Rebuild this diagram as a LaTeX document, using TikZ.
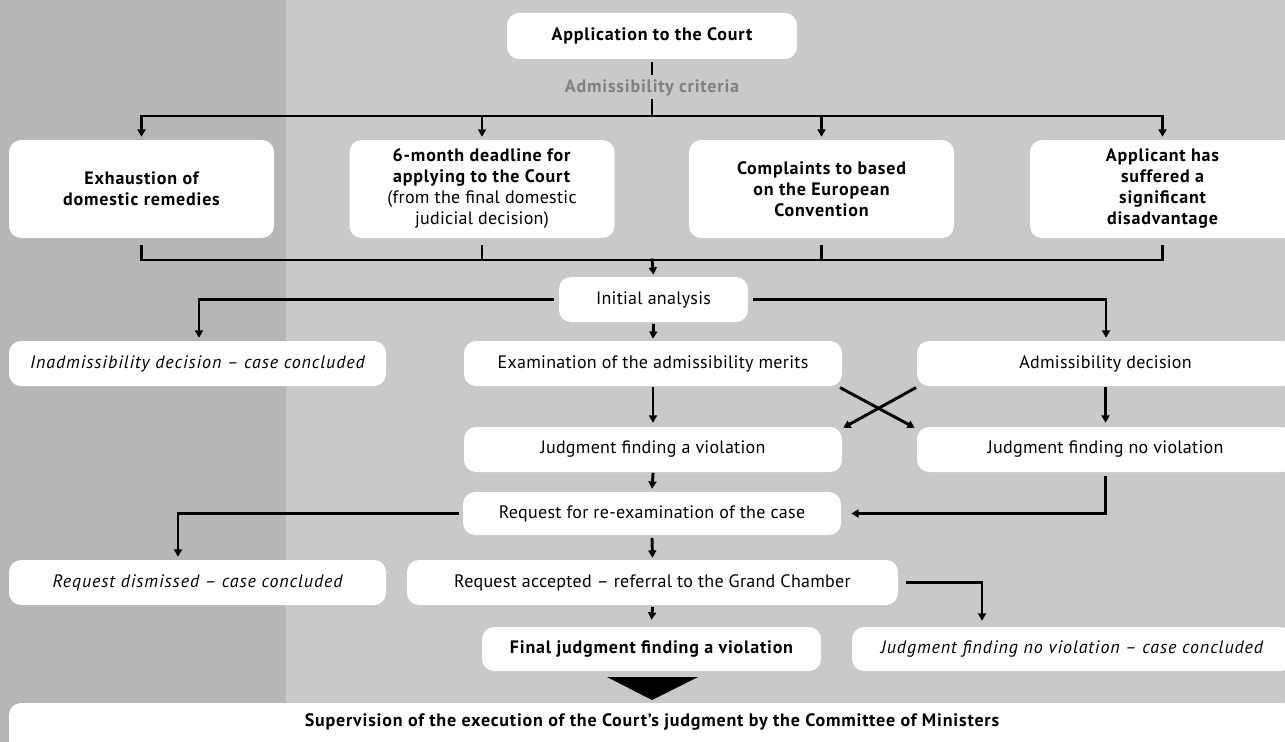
\documentclass[tikz,border=0pt]{standalone}
\usepackage{fontspec}
\setmainfont{PT Sans}[UprightFeatures={LetterSpace=1.5}, BoldFeatures={LetterSpace=4.5}, ItalicFeatures={LetterSpace=5}]
\usetikzlibrary{arrows.meta,calc}
\definecolor{darkbg}{HTML}{B5B6B8}
\definecolor{lightbg}{HTML}{C8C9CB}
\definecolor{crittext}{HTML}{808183}
\newcommand\fsz{\fontsize{13.5}{15.75}\selectfont}
\begin{document}
\begin{tikzpicture}[x=0.75pt,y=-0.75pt,
  box/.style={fill=white, rounded corners=9pt, inner sep=0pt, align=center, font=\fsz},
  bbox/.style={box, font=\fsz\bfseries},
  ibox/.style={box, font=\fsz\itshape},
  wh/.style 2 args={minimum width=#1*0.75pt, minimum height=#2*0.75pt},
  ln/.style={line width=2.2pt, line cap=rect},
  arr/.style={ln, -{Triangle[width=6pt,length=5.5pt]}}]
\useasboundingbox (0,0) rectangle (1285,742);
\clip (0,0) rectangle (1285,742);
\fill[darkbg] (0,0) rectangle (286,742);
\fill[lightbg] (286,0) rectangle (1285,742);

% nodes
\node[bbox, wh={290}{46}] (app) at (652,36) {Application to the Court};
\node[font=\fsz\bfseries, text=crittext, inner sep=1pt] (crit) at (652,88) {Admissibility criteria};

\node[bbox, wh={265}{98}] (b1) at (141.5,189) {Exhaustion of\\domestic remedies};
\node[box, wh={265}{98}] (b2) at (482,189) {\textbf{6-month deadline for}\\\textbf{applying to the Court}\\(from the final domestic\\judicial decision)};
\node[bbox, wh={265}{98}] (b3) at (821.5,189) {Complaints to based\\on the European\\Convention};
\node[bbox, wh={265}{98}] (b4) at (1162.5,189) {Applicant has\\suffered a\\significant\\disadvantage};

\node[box, wh={189}{45}] (init) at (653.5,299.5) {Initial analysis};
\node[ibox, wh={377}{45}] (inadm) at (197.5,363.5) {Inadmissibility decision -- case concluded};
\node[box, wh={378}{45}] (exam) at (653,363.5) {Examination of the admissibility merits};
\node[box, wh={377}{45}] (admdec) at (1105.5,363.5) {Admissibility decision};
\node[box, wh={378}{45}] (jviol) at (653,449.5) {Judgment finding a violation};
\node[box, wh={377}{45}] (jnoviol) at (1105.5,449.5) {Judgment finding no violation};
\node[box, wh={378}{43}] (req) at (652,513.5) {Request for re-examination of the case};
\node[ibox, wh={377}{45}] (dism) at (197.5,582.5) {Request dismissed -- case concluded};
\node[box, wh={491}{45}] (acc) at (652.5,582.5) {Request accepted -- referral to the Grand Chamber};
\node[bbox, wh={339}{44}] (final) at (651.5,649) {Final judgment finding a violation};
\node[ibox, wh={440}{44}] (jnoc) at (1072,649) {Judgment finding no violation -- case concluded};
\fill[white, rounded corners=9pt] (9,703) rectangle (1295,790);
\node[font=\fsz\bfseries] (superv) at (652,722) {Supervision of the execution of the Court's judgment by the Committee of Ministers};

% connectors
\coordinate (topbar) at (652,116);
\coordinate (botbar) at (652,260);
\draw[ln] ($(app.south)+(0,4)$) -- ++(0,10);
\draw[ln] (topbar) -- ++(0,-16);
\draw[ln] (b1.north |- topbar) -- (b4.north |- topbar);
\foreach \b in {b1,b2,b3,b4}
  \draw[arr] (\b.north |- topbar) -- ($(\b.north)+(0,-3)$);
\draw[ln] ($(b1.south)+(0,8)$) |- (botbar) -| ($(b4.south)+(0,8)$);
\draw[ln] ($(b2.south)+(0,8)$) -- (b2.south |- botbar);
\draw[ln] ($(b3.south)+(0,8)$) -- (b3.south |- botbar);
\draw[arr] (botbar) -- ($(init.north)+(0,-2)$);

\draw[arr] ($(init.west)+(-6,0)$) -| ($(inadm.north)+(1.5,-3)$);
\draw[arr] ($(init.east)+(6,0)$) -| ($(admdec.north)+(0.5,-3)$);
\draw[arr] ($(init.south)+(0,3)$) -- ($(exam.north)+(0,-2)$);
\draw[arr] ($(exam.south)+(0,2)$) -- ($(jviol.north)+(0,-4)$);
\draw[arr] ($(admdec.south)+(0,2)$) -- ($(jnoviol.north)+(0,-4)$);
\draw[arr] ($(admdec.south west)+(-2,2)$) -- ($(jviol.north east)+(1,1)$);
\draw[arr] ($(exam.south east)+(-1,2)$) -- ($(jnoviol.north west)+(-2,1)$);
\draw[arr] ($(jviol.south)+(0,2)$) -- ($(req.north)+(0,-3)$);
\draw[arr] ($(jnoviol.south)+(0,5)$) |- ($(req.east)+(10,0)$);
\draw[arr] ($(req.west)+(-5,0)$) -| ($(dism.north)+(-19.5,-3)$);
\draw[arr] ($(req.south)+(0,4)$) -- ($(acc.north)+(0,-2)$);
\draw[arr] ($(acc.east)+(9,0)$) -| ($(jnoc.north)+(-90,-6)$);
\draw[arr] ($(acc.south)+(0,3)$) -- ($(final.north)+(0,-7)$);
\fill (607,677) -- (698,677) -- (652,700) -- cycle;
\end{tikzpicture}
\end{document}
